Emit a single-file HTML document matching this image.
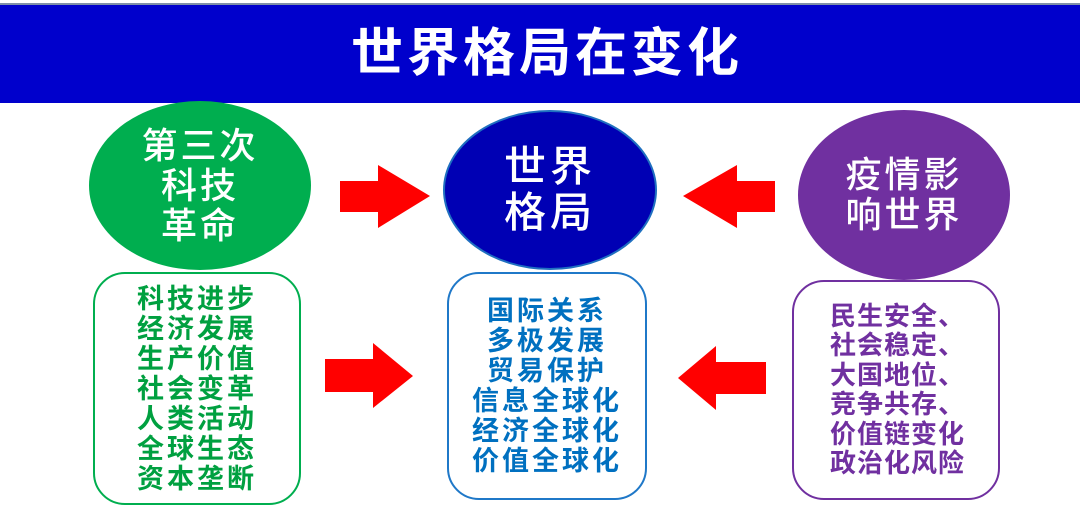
<!DOCTYPE html>
<html><head><meta charset="utf-8"><style>
body{margin:0;width:1080px;height:522px;background:#fff;position:relative;overflow:hidden;font-family:"Liberation Sans","Noto Sans CJK SC",sans-serif;}
.a{position:absolute}
.hd{left:0;top:3px;width:1080px;height:98px;background:#0000CC;border-top:2px solid #7f8fa8;color:#fff;font-size:52px;font-weight:bold;text-align:center;line-height:98px;letter-spacing:4px;text-indent:14px}
.el{border-radius:50%;color:#fff;text-align:center;display:flex;align-items:center;justify-content:center;font-weight:500}
.bx{border-radius:32px;background:#fff;text-align:center;font-weight:bold;font-size:27px;line-height:30px;letter-spacing:3px;display:flex;align-items:center;justify-content:center;box-sizing:border-box}
</style></head><body>
<div class="a hd">世界格局在变化</div>
<div class="a el" style="left:89px;top:101px;width:222px;height:169px;background:#00AE4F;font-size:36px;line-height:40px;letter-spacing:3px">第三次<br>科技<br>革命</div>
<div class="a el" style="left:443px;top:110px;width:214px;height:160px;background:#0000B4;border:2px solid #1f6fc0;box-sizing:border-box;font-size:42px;line-height:46px;letter-spacing:4px">世界<br>格局</div>
<div class="a el" style="left:798px;top:110px;width:212px;height:170px;background:#7030A0;font-size:36px;line-height:40px;letter-spacing:3px">疫情影<br>响世界</div>
<svg class="a" style="left:0;top:0" width="1080" height="522">
<polygon fill="#f00" points="340,181 378,181 378,165 430,196 378,228 378,212 340,212"/>
<polygon fill="#f00" points="775,181 737,181 737,165 683,196 737,228 737,212 775,212"/>
<polygon fill="#f00" points="325,359 373,359 373,343 413,376 373,408 373,392 325,392"/>
<polygon fill="#f00" points="766,362 716,362 716,346 678,378 716,410 716,394 766,394"/>
</svg>
<div class="a bx" style="left:93px;top:272px;width:208px;height:233px;border:2px solid #00AE4F;color:#00A040">科技进步<br>经济发展<br>生产价值<br>社会变革<br>人类活动<br>全球生态<br>资本垄断</div>
<div class="a bx" style="left:447px;top:272px;width:200px;height:228px;border:2px solid #1f78c8;color:#0070C0">国际关系<br>多极发展<br>贸易保护<br>信息全球化<br>经济全球化<br>价值全球化</div>
<div class="a bx" style="left:792px;top:280px;width:208px;height:220px;border:2px solid #7030A0;color:#7030A0;line-height:29.5px;padding-left:36px;font-size:26px;letter-spacing:1px;text-align:left;justify-content:flex-start">民生安全、<br>社会稳定、<br>大国地位、<br>竞争共存、<br>价值链变化<br>政治化风险</div>
</body></html>
